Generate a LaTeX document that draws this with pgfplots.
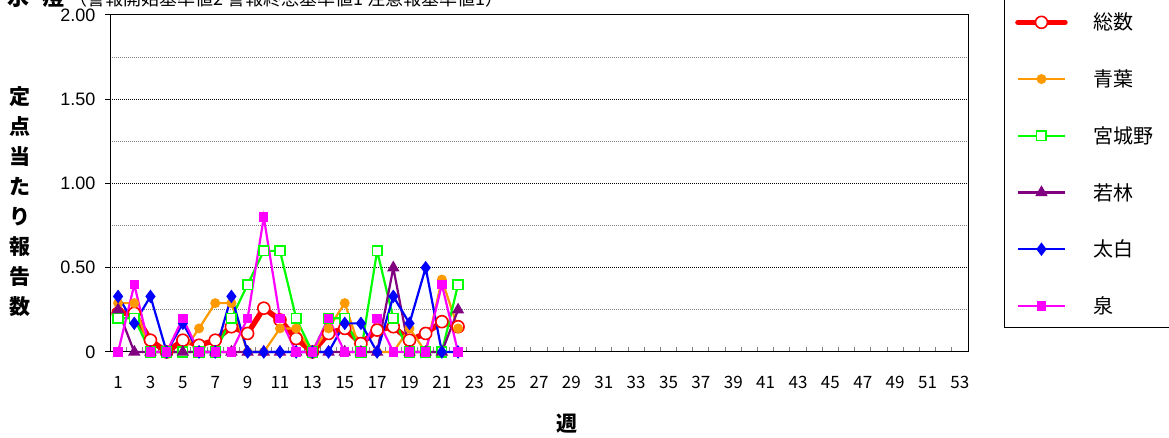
\documentclass[border=0pt]{standalone}
\usepackage{fontspec}
\setmainfont{Noto Sans CJK JP}
\newfontfamily\arialf{Liberation Sans}
\usepackage{pgfplots}
\usepackage{pgfplotstable}
\pgfplotsset{compat=1.18}

\definecolor{cTot}{RGB}{255,0,0}
\definecolor{cAoba}{RGB}{255,153,0}
\definecolor{cMiya}{RGB}{0,255,0}
\definecolor{cWaka}{RGB}{128,0,128}
\definecolor{cTaih}{RGB}{0,0,255}
\definecolor{cIzum}{RGB}{255,0,255}

% weekly reports per sentinel site, weeks 1-22
\pgfplotstableread{
w  tot  aoba miya waka taih izum
1  0.23 0.29 0.20 0.25 0.33 0.00
2  0.23 0.29 0.20 0.00 0.17 0.40
3  0.07 0.00 0.00 0.00 0.33 0.00
4  0.00 0.00 0.00 0.00 0.00 0.00
5  0.07 0.00 0.00 0.00 0.17 0.20
6  0.04 0.14 0.00 0.00 0.00 0.00
7  0.07 0.29 0.00 0.00 0.00 0.00
8  0.15 0.29 0.20 0.00 0.33 0.00
9  0.11 0.00 0.40 0.00 0.00 0.20
10 0.26 0.00 0.60 0.00 0.00 0.80
11 0.19 0.14 0.60 0.00 0.00 0.20
12 0.08 0.14 0.20 0.00 0.00 0.00
13 0.00 0.00 0.00 0.00 0.00 0.00
14 0.11 0.14 0.20 0.00 0.00 0.20
15 0.14 0.29 0.20 0.00 0.17 0.00
16 0.05 0.00 0.00 0.00 0.17 0.00
17 0.13 0.00 0.60 0.00 0.00 0.20
18 0.15 0.00 0.20 0.50 0.33 0.00
19 0.07 0.14 0.00 0.00 0.17 0.00
20 0.11 0.00 0.00 0.00 0.50 0.00
21 0.18 0.43 0.00 0.00 0.00 0.40
22 0.15 0.14 0.40 0.25 0.00 0.00
}\dat

\begin{document}
\begin{tikzpicture}
\begin{axis}[
    at={(110pt,86pt)}, anchor=south west,
    scale only axis, width=858pt, height=337pt,
    xmin=0.5, xmax=53.5, ymin=0, ymax=2,
    clip=false,
    % tick marks between the weeks, labels on odd weeks
    xtick={1.5,2.5,...,52.5}, xticklabels={},
    extra x ticks={1,3,...,53},
    extra x tick style={major tick length=0pt},
    ytick={0,0.5,1,1.5,2},
    yticklabels={0,0.50,1.00,1.50,2.00},
    minor ytick={0.25,0.75,1.25,1.75},
    ymajorgrids, yminorgrids,
    major grid style={black, dash pattern=on 1pt off 1pt, line width=1pt},
    minor grid style={gray, dash pattern=on 1pt off 1pt, line width=1pt},
    tick align=inside, tick pos=left,
    major tick length=5pt, minor tick length=0pt,
    xtick style={gray, line width=1pt},
    ytick style={xshift=-5pt, black, line width=1pt},
    axis line style={black, line width=1pt},
    xticklabel style={font=\fontsize{17}{17}\selectfont, yshift=-21pt},
    yticklabel style={font=\arialf\fontsize{18}{18}\selectfont, xshift=-11pt},
    /pgf/number format/assume math mode=true,
    legend style={draw=none, fill=none, at={(axis description cs:1.0548,1.006)},
        anchor=north west, inner sep=0pt, row sep=38.4pt, column sep=26pt,
        font=\fontsize{20}{20}\selectfont, nodes={inner sep=0pt}},
    legend cell align=left,
    legend image code/.code={\draw[mark repeat=2,mark phase=2,#1]
        plot coordinates {(0pt,0pt) (23.5pt,0pt) (47pt,0pt)};},
]
\addplot[cTot, line width=5.5pt, line join=round, line cap=round, mark=*, mark size=6pt,
    mark options={fill=white, draw=cTot, line width=1.6pt}] table[x=w,y=tot]{\dat};
\addplot[cAoba, line width=2.2pt, mark=*, mark size=3.8pt, mark options={solid}] table[x=w,y=aoba]{\dat};
\addplot[cMiya, line width=2.2pt, mark=square*, mark size=4.8pt,
    mark options={fill=white, line width=1.6pt}] table[x=w,y=miya]{\dat};
\addplot[cWaka, line width=2.2pt, mark=triangle*, mark size=5pt] table[x=w,y=waka]{\dat};
\addplot[cTaih, line width=2.2pt, mark=diamond*, mark size=5pt] table[x=w,y=taih]{\dat};
\addplot[cIzum, line width=2.2pt, mark=square*, mark size=3.6pt] table[x=w,y=izum]{\dat};
\legend{総数,青葉,宮城野,若林,太白,泉}
\end{axis}
% legend frame, running off the top and right edge like the reference
\draw[black, line width=1pt] (1004pt,110pt) rectangle (1190pt,460pt);
% title, cut off at the top edge
\node[anchor=base west, inner sep=0pt] at (7pt,432pt)
    {{\bfseries\fontsize{22}{22}\selectfont 水\hspace{0.6em}痘}\hspace{0.5em}{\fontsize{18}{18}\selectfont （警報開始基準値2 警報終息基準値1 注意報基準値1）}};
% y label, one character per line
\node[align=center, inner sep=0pt, font=\bfseries\fontsize{21}{30}\selectfont] at (20pt,236pt)
    {定\\点\\当\\た\\り\\報\\告\\数};
% x label
\node[font=\bfseries\fontsize{21}{21}\selectfont, inner sep=0pt] at (567pt,14pt) {週};
\pgfresetboundingbox
\useasboundingbox (0pt,0pt) rectangle (1169pt,438pt);
\end{tikzpicture}
\end{document}
